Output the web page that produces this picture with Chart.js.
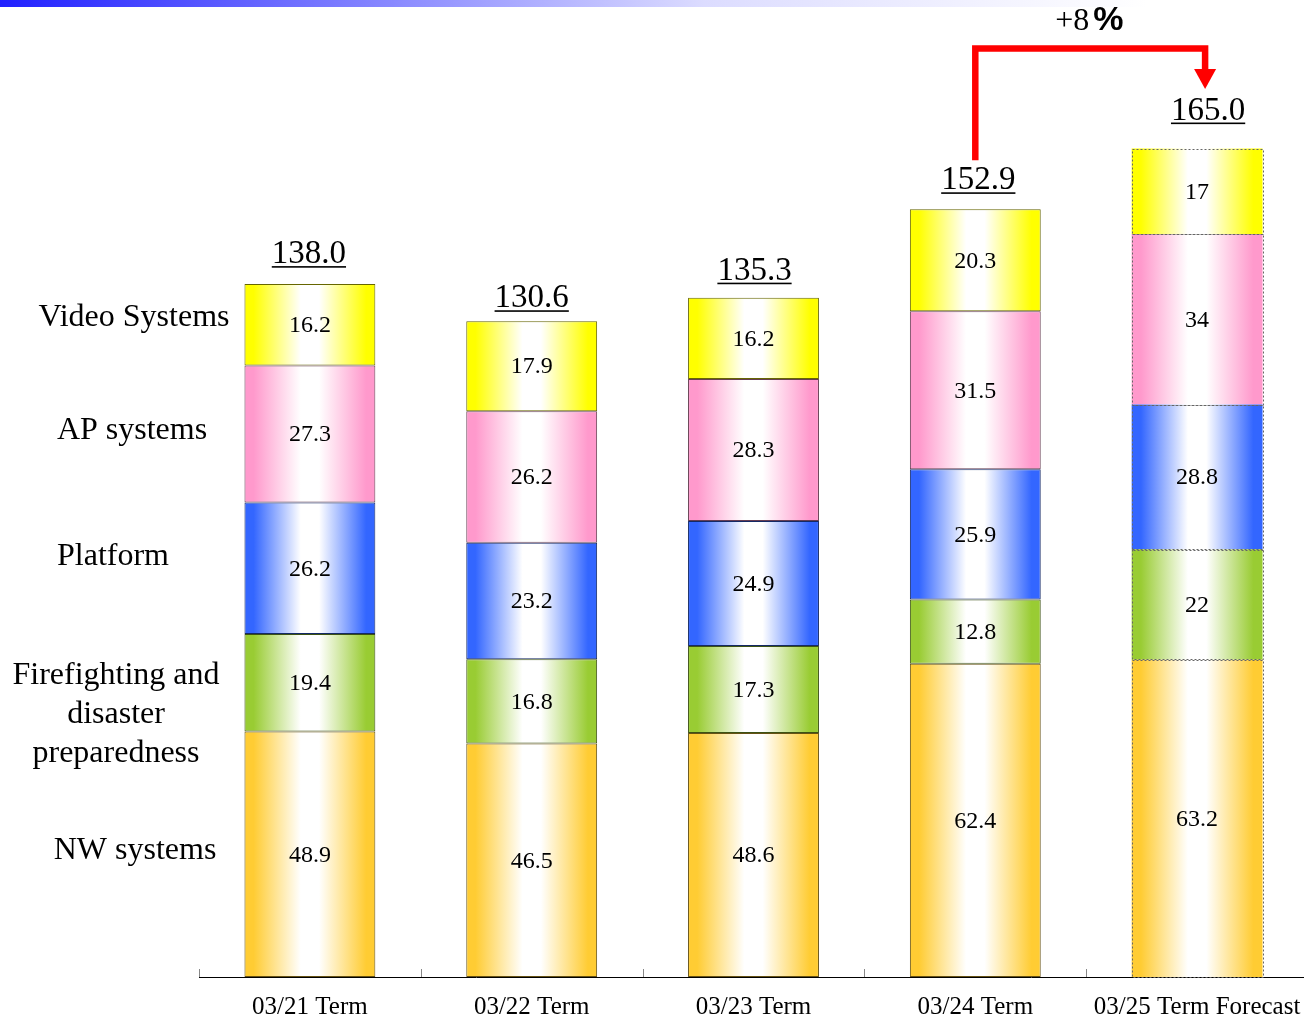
<!DOCTYPE html>
<html>
<head>
<meta charset="utf-8">
<title>Sales by segment</title>
<script src="https://cdn.jsdelivr.net/npm/chart.js@4.4.0/dist/chart.umd.min.js"></script>
<style>
  html, body { margin: 0; padding: 0; overflow: hidden; background: #fff; }
  #topBand {
    position: absolute; left: 0; top: 0; width: 1304px; height: 7px; z-index: 2;
    background: linear-gradient(to right, #2020ff 0%, #dcdcff 54%, #ffffff 88%);
  }
  #wrap { position: absolute; left: 0; top: 0; width: 1310px; height: 1019px; }
</style>
</head>
<body>
<div id="topBand"></div>
<div id="wrap"><canvas id="salesChart"></canvas></div>
<script>
// Dữ liệu biểu đồ
const categories = ['03/21 Term', '03/22 Term', '03/23 Term', '03/24 Term', '03/25 Term Forecast'];
const nwSystems = [48.9, 46.5, 48.6, 62.4, 63.2];
const firefighting = [19.4, 16.8, 17.3, 12.8, 22];
const platform = [26.2, 23.2, 24.9, 25.9, 28.8];
const apSystems = [27.3, 26.2, 28.3, 31.5, 34];
const videoSystems = [16.2, 17.9, 16.2, 20.3, 17];
const totals = [138.0, 130.6, 135.3, 152.9, 165.0];
const growthText = '+8';
const forecastIndex = 4;

const SERIF = '"Liberation Serif", "Times New Roman", serif';
const BAR_PCT = 0.59;

// nhãn bên trái (chỉ là chú thích)
const sideLabels = [
    { lines: ['Video Systems'], x: 134, y: 318 },
    { lines: ['AP systems'], x: 132, y: 431 },
    { lines: ['Platform'], x: 113, y: 557 },
    { lines: ['Firefighting and', 'disaster', 'preparedness'], x: 116, y: 676 },
    { lines: ['NW systems'], x: 135, y: 851 }
];
// vị trí nhãn tổng so với đỉnh cột
const totalGap = [21, 14, 18, 20, 29];
const totalShift = [-1, 0, 1, 3, 11];

// gradient ngang: màu ở mép, trắng ở giữa
function barGradient(color) {
    return function(context) {
        const chart = context.chart;
        const xs = chart.scales.x;
        if (!xs || !chart.chartArea) return color;
        const cx = xs.getPixelForValue(context.dataIndex);
        const half = xs.width / categories.length * BAR_PCT / 2;
        const g = chart.ctx.createLinearGradient(cx - half, 0, cx + half, 0);
        g.addColorStop(0, color);
        g.addColorStop(0.07, color);
        g.addColorStop(0.43, '#ffffff');
        g.addColorStop(0.57, '#ffffff');
        g.addColorStop(0.93, color);
        g.addColorStop(1, color);
        return g;
    };
}

function makeSet(label, data, color, edge) {
    return {
        label: label,
        data: data,
        backgroundColor: barGradient(color),
        borderColor: edge,
        borderWidth: ctx => ctx.dataIndex === forecastIndex ? 0 : 1,
        borderSkipped: false,
        barPercentage: BAR_PCT,
        categoryPercentage: 1
    };
}

const annotations = {
    id: 'annotations',
    afterDatasetsDraw(chart) {
        const ctx = chart.ctx;
        const xs = chart.scales.x;
        const ys = chart.scales.y;
        ctx.save();

        // viền chấm cho cột dự báo
        ctx.setLineDash([2, 2]);
        ctx.strokeStyle = '#666';
        ctx.lineWidth = 1;
        chart.data.datasets.forEach((ds, i) => {
            const el = chart.getDatasetMeta(i).data[forecastIndex];
            const top = Math.min(el.y, el.base), bottom = Math.max(el.y, el.base);
            ctx.strokeRect(Math.round(el.x - el.width / 2) + 0.5, Math.round(top) + 0.5, Math.round(el.width), Math.round(bottom - top));
        });
        ctx.setLineDash([]);

        // số liệu từng phần
        ctx.fillStyle = '#000';
        ctx.font = '24px ' + SERIF;
        ctx.textAlign = 'center';
        ctx.textBaseline = 'middle';
        chart.data.datasets.forEach((ds, i) => {
            chart.getDatasetMeta(i).data.forEach((el, j) => {
                ctx.fillText(String(ds.data[j]), el.x, (el.y + el.base) / 2 + 1);
            });
        });

        // tổng có gạch chân
        ctx.font = '33px ' + SERIF;
        ctx.textBaseline = 'alphabetic';
        totals.forEach((t, j) => {
            const txt = t.toFixed(1);
            const x = xs.getPixelForValue(j) + totalShift[j];
            const y = ys.getPixelForValue(t) - totalGap[j];
            ctx.fillText(txt, x, y);
            const w = ctx.measureText(txt).width;
            ctx.fillRect(x - w / 2, y + 3, w, 1.6);
        });

        // mũi tên tăng trưởng
        const x3 = xs.getPixelForValue(3) + totalShift[3] - 3;
        const x4 = xs.getPixelForValue(4) + 8;
        const y3 = ys.getPixelForValue(totals[3]) - totalGap[3] - 29;
        const yTop = 48.5;
        ctx.strokeStyle = '#ff0000';
        ctx.fillStyle = '#ff0000';
        ctx.lineWidth = 6.5;
        ctx.lineJoin = 'miter';
        ctx.beginPath();
        ctx.moveTo(x3, y3);
        ctx.lineTo(x3, yTop);
        ctx.lineTo(x4, yTop);
        ctx.lineTo(x4, 72);
        ctx.stroke();
        ctx.beginPath();
        ctx.moveTo(x4 - 11, 69);
        ctx.lineTo(x4 + 11, 69);
        ctx.lineTo(x4, 89);
        ctx.closePath();
        ctx.fill();

        const mid = (x3 + x4) / 2;
        ctx.fillStyle = '#000';
        ctx.textAlign = 'right';
        ctx.font = '32px ' + SERIF;
        ctx.fillText(growthText, mid - 1, 30);
        ctx.textAlign = 'left';
        ctx.font = 'bold 34px "Liberation Sans", Arial, sans-serif';
        ctx.fillText('%', mid + 3, 30);

        // vạch chia trục x hướng lên
        ctx.strokeStyle = '#888';
        ctx.lineWidth = 1;
        const step = xs.width / categories.length;
        for (let k = 0; k < categories.length; k++) {
            const x = Math.round(xs.left + k * step) + 0.5;
            ctx.beginPath();
            ctx.moveTo(x, xs.top - 8);
            ctx.lineTo(x, xs.top);
            ctx.stroke();
        }

        // nhãn phân khúc bên trái
        ctx.fillStyle = '#000';
        ctx.textAlign = 'center';
        ctx.textBaseline = 'middle';
        ctx.font = '32px ' + SERIF;
        sideLabels.forEach(s => {
            s.lines.forEach((line, n) => ctx.fillText(line, s.x, s.y + n * 39));
        });

        ctx.restore();
    }
};

document.addEventListener('DOMContentLoaded', function() {
    const ctx = document.getElementById('salesChart').getContext('2d');
    new Chart(ctx, {
        type: 'bar',
        data: {
            labels: categories,
            datasets: [
                makeSet('NW systems', nwSystems, '#ffcc33', '#665214'),
                makeSet('Firefighting and disaster preparedness', firefighting, '#99cc33', '#3d5214'),
                makeSet('Platform', platform, '#3366ff', '#142966'),
                makeSet('AP systems', apSystems, '#ff99cc', '#663d52'),
                makeSet('Video Systems', videoSystems, '#ffff00', '#666600')
            ]
        },
        options: {
            responsive: true,
            maintainAspectRatio: false,
            animation: false,
            layout: { padding: { left: 199, right: 2, top: 23, bottom: 0 } },
            plugins: {
                legend: { display: false },
                tooltip: { enabled: false }
            },
            scales: {
                x: {
                    stacked: true,
                    grid: { display: false, drawTicks: false },
                    border: { display: true, color: '#000', width: 1 },
                    ticks: { color: '#000', padding: 15, font: { family: SERIF, size: 25 } },
                    afterFit: scale => {
                        scale.height = 42;
                        scale.paddingLeft = 0;
                        scale.paddingRight = 0;
                    }
                },
                y: {
                    stacked: true,
                    display: false,
                    min: 0,
                    max: 190
                }
            }
        },
        plugins: [annotations]
    });
});
</script>
</body>
</html>
